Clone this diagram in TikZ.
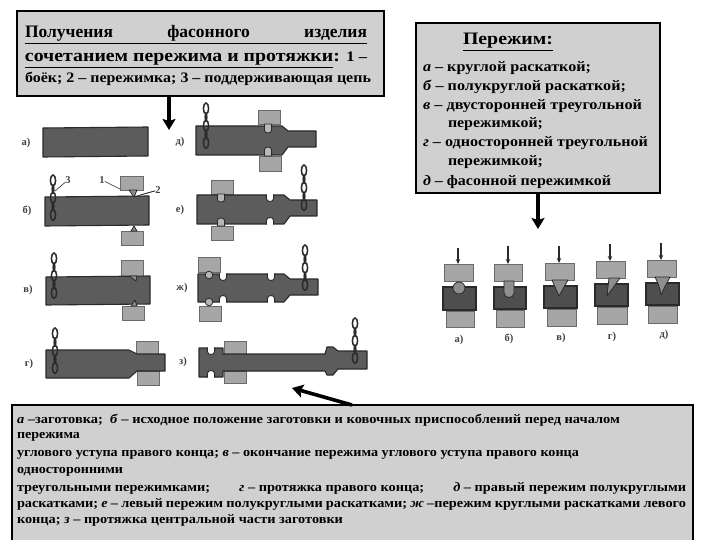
\documentclass[tikz,border=0pt]{standalone}
\usepackage{fontspec}
\usepackage{graphicx}
\setmainfont{Liberation Serif}
\usetikzlibrary{arrows.meta}
\definecolor{boxgrey}{HTML}{D0D0D0}
\definecolor{barfill}{HTML}{5C5C5C}
\definecolor{baredge}{HTML}{2A2A2A}
\definecolor{punchfill}{HTML}{A6A6A6}
\definecolor{toolfill}{HTML}{8E8E8E}
\definecolor{workfill}{HTML}{4E4E4E}
\tikzset{
  x=1pt,y=-1pt,
  panel/.style={draw=black,line width=2pt,fill=boxgrey,anchor=north west,inner sep=0,outer sep=0},
  bararea/.style={fill=barfill,draw=baredge,line width=1.1pt,line join=round},
  workarea/.style={fill=workfill,draw=baredge,line width=1.3pt},
  punchbox/.style={fill=punchfill,draw=baredge!70,line width=.7pt,inner sep=0,outer sep=0},
  hitarea/.style={fill=punchfill!110!black,draw=baredge,line width=.8pt,line join=round},
  tooltri/.style={fill=toolfill,draw=baredge,line width=.8pt,line join=round},
  linkopen/.style={draw=baredge,line width=1.5pt},
  linkedge/.style={fill=baredge,draw=baredge,line width=.4pt},
  bigarrow/.style={line width=3.6pt,draw=black,-{Stealth[length=11pt,width=13pt,inset=2pt]}},
  smallarrow/.style={line width=1.1pt,draw=baredge,-{Stealth[length=5pt,width=4.5pt]}},
  leader/.style={line width=.6pt,draw=baredge},
  figlabel/.style={font=\fontsize{10.5}{11}\selectfont\bfseries,text=black!75,inner sep=0},
  textline/.style={anchor=base west,inner sep=0,outer sep=0},
}
\newcommand{\fitw}[2]{\resizebox{#1}{\height}{#2}}
\newcommand{\jline}[2]{\resizebox{#1}{\height}{\hbox to \dimexpr#1*10/11\relax{#2}}}
\newcommand{\fsa}{\fontsize{17.5}{20}\selectfont\bfseries}
\newcommand{\fsb}{\fontsize{14.5}{16}\selectfont\bfseries}
\newcommand{\fsc}{\fontsize{13}{15}\selectfont\bfseries}
% name, x0, y0, x1, y1
\newcommand{\pbox}[5]{\node[punchbox,minimum width={(#4-#2)*1pt},minimum height={(#5-#3)*1pt}] (#1) at ({(#2+#4)/2},{(#3+#5)/2}) {};}
% x, ytop
\newcommand{\chainlinks}[2]{%
  \foreach \i in {0,2,4}{\draw[linkopen] (#1,{#2+5.5+\i*8.6}) ellipse [x radius=2.6,y radius=5.5];}
  \foreach \i in {1,3}{\draw[linkedge] (#1,{#2+5.5+\i*8.6}) ellipse [x radius=1.3,y radius=5];}
}
% x centre, edge y, direction (+1 down, -1 up)
\newcommand{\notchwhite}[3]{\path[fill=white,draw=baredge,line width=.9pt]
  ({#1-3.6},#2) -- ({#1-3.6},{#2+#3*3.5}) .. controls ({#1-3.6},{#2+#3*7.5}) and ({#1+3.6},{#2+#3*7.5}) .. ({#1+3.6},{#2+#3*3.5}) -- ({#1+3.6},#2) -- cycle;
  \path[draw=white,line width=1.4pt] ({#1-3},#2) -- ({#1+3},#2);}
% x centre, start y, end y (round end)
\newcommand{\hitter}[3]{\path[hitarea]
  ({#1-3.6},#2) -- ({#1-3.6},{#3-(#3-#2)*.3}) .. controls ({#1-3.6},{#3+(#3-#2)*.1}) and ({#1+3.6},{#3+(#3-#2)*.1}) .. ({#1+3.6},{#3-(#3-#2)*.3}) -- ({#1+3.6},#2) -- cycle;}
\begin{document}
\begin{tikzpicture}
\useasboundingbox (0,0) rectangle (720,540);
\fill[white] (0,0) rectangle (720,540);

% ---------- left column bars ----------
\path[bararea] (43,128) -- (148,127) -- (148,156) -- (43,157) -- cycle;
\node[figlabel] (la) at (26,143) {а)};

\pbox{pb1}{120}{176}{143}{190}
\pbox{pb2}{121}{231}{143}{245}
\path[bararea] (45,197) -- (149,196) -- (149,225) -- (45,226) -- cycle;
\path[tooltri] (129,190) -- (137,190) -- (134,197) -- cycle;
\path[tooltri] (131,231) -- (137,231) -- (134,226) -- cycle;
\chainlinks{53}{175}
\node[figlabel] (lb) at (27,211) {б)};
\node[figlabel] (n3) at (68,180) {3};
\node[figlabel] (n1) at (102,180) {1};
\node[figlabel] (n2) at (158,190) {2};
\coordinate (c3) at (55,191);
\coordinate (c1) at (120,189);
\coordinate (c2a) at (134,197);
\coordinate (c2b) at (140,195);
\draw[leader] (n3) -- (c3);
\draw[leader] (n1) -- (c1);
\draw[leader] (n2) -- (c2a);
\draw[leader] (n2) -- (c2b);

\pbox{pv1}{121}{260}{143}{277}
\pbox{pv2}{122}{306}{144}{320}
\path[bararea] (46,277) -- (150,276) -- (150,304) -- (46,305) -- cycle;
\path[tooltri] (129,276) -- (137,276) -- (136,281) -- cycle;
\path[tooltri] (131,306) -- (137,306) -- (135,300) -- cycle;
\chainlinks{54}{253}
\node[figlabel] (lv) at (28,290) {в)};

\pbox{pg1}{136}{341}{158}{355}
\pbox{pg2}{137}{371}{159}{385}
\path[bararea] (46,350) -- (129,350) -- (137,354) -- (165,354) -- (165,371) -- (137,371) -- (129,378) -- (46,378) -- cycle;
\chainlinks{55}{328}
\node[figlabel] (lg) at (29,364) {г)};

% ---------- right column bars ----------
\pbox{pd1}{258}{110}{280}{124}
\pbox{pd2}{259}{156}{281}{171}
\path[bararea] (196,126) -- (282,126) -- (288,131) -- (316,131) -- (316,147) -- (288,147) -- (282,155) -- (196,155) -- cycle;
\hitter{268}{124}{133}
\hitter{268}{156}{147}
\chainlinks{206}{103}
\node[figlabel] (ld) at (180,142) {д)};

\pbox{pe1}{211}{180}{233}{194}
\pbox{pe2}{211}{226}{233}{240}
\path[bararea] (197,195) -- (284,195) -- (290,200) -- (317,200) -- (317,216) -- (290,216) -- (284,224) -- (197,224) -- cycle;
\hitter{221}{194}{202}
\hitter{221}{226}{218}
\notchwhite{270}{195}{1}
\notchwhite{270}{224}{-1}
\chainlinks{304}{165}
\node[figlabel] (le) at (180,210) {е)};

\pbox{pz1}{198}{257}{220}{272}
\pbox{pz2}{199}{306}{221}{321}
\path[bararea] (198,274) -- (284,274) -- (290,279) -- (318,279) -- (318,295) -- (290,295) -- (284,302) -- (198,302) -- cycle;
\notchwhite{223}{274}{1}
\notchwhite{223}{302}{-1}
\notchwhite{271}{274}{1}
\notchwhite{271}{302}{-1}
\path[hitarea] (209,275) circle [radius=3.8];
\path[hitarea] (209,302) circle [radius=3.8];
\chainlinks{305}{245}
\node[figlabel] (lzh) at (182,288) {ж)};

\pbox{pi1}{224}{341}{246}{354}
\pbox{pi2}{224}{371}{246}{383}
\path[bararea] (199,348) -- (223,348) -- (223,354) -- (325,354) -- (327,347) -- (333,347) -- (338,351) -- (367,351) -- (367,369) -- (338,369) -- (333,375) -- (327,375) -- (325,371) -- (223,371) -- (223,377) -- (199,377) -- cycle;
\notchwhite{211}{348}{1}
\notchwhite{211}{377}{-1}
\chainlinks{355}{318}
\node[figlabel] (lz) at (183,362) {з)};

% ---------- five press sketches ----------
\pbox{r1t}{444}{264}{473}{281}
\pbox{r1b}{446}{311}{474}{327}
\path[workarea] (443,287) rectangle (476,310);
\path[tooltri] (459,288) circle [radius=6];
\coordinate (r1a) at (458,248);
\draw[smallarrow] (r1a) -- (r1a |- r1t.north);
\node[figlabel] (r1l) at (459,340) {а)};

\pbox{r2t}{494}{264}{522}{281}
\pbox{r2b}{496}{310}{524}{327}
\path[workarea] (494,287) rectangle (526,309);
\path[tooltri] (504,281) -- (504,293) .. controls (504,299) and (514,299) .. (514,293) -- (514,281) -- cycle;
\coordinate (r2a) at (508,246);
\draw[smallarrow] (r2a) -- (r2a |- r2t.north);
\node[figlabel] (r2l) at (509,339) {б)};

\pbox{r3t}{545}{263}{574}{280}
\pbox{r3b}{547}{309}{576}{326}
\path[workarea] (544,286) rectangle (577,308);
\path[tooltri] (552,280) -- (568,280) -- (559,296) -- cycle;
\coordinate (r3a) at (559,246);
\draw[smallarrow] (r3a) -- (r3a |- r3t.north);
\node[figlabel] (r3l) at (561,338) {в)};

\pbox{r4t}{596}{261}{625}{278}
\pbox{r4b}{597}{307}{627}{324}
\path[workarea] (595,284) rectangle (628,306);
\path[tooltri] (609,278) -- (620,278) -- (607,296) -- cycle;
\coordinate (r4a) at (610,244);
\draw[smallarrow] (r4a) -- (r4a |- r4t.north);
\node[figlabel] (r4l) at (612,337) {г)};

\pbox{r5t}{647}{260}{676}{277}
\pbox{r5b}{648}{306}{677}{323}
\path[workarea] (646,283) rectangle (679,305);
\path[tooltri] (655,277) -- (670,277) .. controls (667,283) and (664,288) .. (661,295) .. controls (660,288) and (658,283) .. (655,277) -- cycle;
\coordinate (r5a) at (661,243);
\draw[smallarrow] (r5a) -- (r5a |- r5t.north);
\node[figlabel] (r5l) at (664,335) {д)};

% ---------- panels ----------
\node[panel,minimum width=367pt,minimum height=85pt] (box1) at (17,11) {};
\node[panel,minimum width=244pt,minimum height=170pt] (box2) at (416,23) {};
\node[panel,minimum width=681pt,minimum height=150pt] (box3) at (12,405) {};

% ---------- connectors ----------
\coordinate (a1) at (169,130);
\coordinate (a2) at (538,229);
\coordinate (a3t) at (352,405);
\coordinate (a3h) at (292,388);
\draw[bigarrow] (a1 |- box1.south) -- (a1);
\draw[bigarrow] (a2 |- box2.south) -- (a2);
\draw[bigarrow] (a3t) -- (a3h);

% ---------- panel 1 text ----------
\node[textline] (t11) at (25,38) {\fsa\underline{\hbox to 342pt{Получения\hfil фасонного\hfil изделия}}};
\node[textline] (t12) at (25,62) {\fitw{342pt}{\fsa\underline{сочетанием пережима и протяжки}: \fsb 1 –}};
\node[textline] (t13) at (25,83) {\fitw{346pt}{\fsb боёк; 2 – пережимка; 3 – поддерживающая цепь}};

% ---------- panel 2 text ----------
\node[textline] (t20) at (463,45) {\fitw{90pt}{\fsa\underline{Пережим:}}};
\node[textline] (t21) at (423,72) {\fitw{168pt}{\fsb\textit{а} – круглой раскаткой;}};
\node[textline] (t22) at (423,91) {\fitw{203pt}{\fsb\textit{б} – полукруглой раскаткой;}};
\node[textline] (t23) at (423,110) {\fitw{219pt}{\fsb\textit{в} – двусторонней треугольной}};
\node[textline] (t24) at (448,128) {\fitw{95pt}{\fsb пережимкой;}};
\node[textline] (t25) at (423,147) {\fitw{225pt}{\fsb\textit{г} – односторонней треугольной}};
\node[textline] (t26) at (448,166) {\fitw{95pt}{\fsb пережимкой;}};
\node[textline] (t27) at (423,186) {\fitw{188pt}{\fsb\textit{д} – фасонной пережимкой}};

% ---------- panel 3 text ----------
\node[textline] (t31) at (17,423) {\fitw{603pt}{\fsc\textit{а} –заготовка;\ \ \textit{б} – исходное положение заготовки и ковочных приспособлений перед началом}};
\node[textline] (t32) at (17,438) {\fitw{63pt}{\fsc пережима}};
\node[textline] (t33) at (17,456) {\fitw{562pt}{\fsc углового уступа правого конца; \textit{в} – окончание пережима углового уступа правого конца}};
\node[textline] (t34) at (17,473) {\fitw{106pt}{\fsc односторонними}};
\node[textline] (t35) at (17,491) {\jline{669pt}{\fsc треугольными пережимками;\hfil \textit{г} – протяжка правого конца;\hfil \textit{д} – правый пережим полукруглыми}};
\node[textline] (t36) at (17,507) {\jline{669pt}{\fsc раскатками; \textit{е} – левый пережим полукруглыми раскатками; \textit{ж} –пережим круглыми раскатками левого}};
\node[textline] (t37) at (17,523) {\fitw{326pt}{\fsc конца; \textit{з} – протяжка центральной части заготовки}};
\end{tikzpicture}
\end{document}
